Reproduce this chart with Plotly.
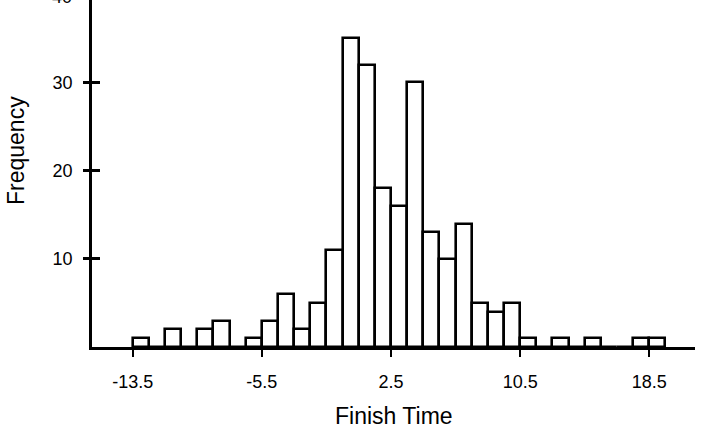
import plotly.graph_objects as go

# Histogram of finish times: bin centres (width 1) and counts
bin_centers = list(range(-13, 20))
counts = [1, 0, 2, 0, 2, 3, 0, 1, 3, 6, 2, 5, 11, 35, 32, 18, 16, 30, 13, 10, 14,
          5, 4, 5, 1, 0, 1, 0, 1, 0, 0, 1, 1]
x_tickvals = [-13.5, -5.5, 2.5, 10.5, 18.5]
x_ticktext = ["-13.5", "-5.5", "2.5", "10.5", "18.5"]
y_tickvals = [10, 20, 30, 40]
x_title = "Finish Time"
y_title = "Frequency"

FONT = "Liberation Sans, Arial, Helvetica, sans-serif"
X_RANGE = [-16.02, 21.33]
Y_RANGE = [0, 39.34]
PLOT_L, PLOT_R, PLOT_B = 92, 9, 93
PLOT_W = 704 - PLOT_L - PLOT_R
PLOT_H = 440 - PLOT_B

fig = go.Figure()
fig.add_trace(go.Bar(
    x=bin_centers, y=counts, width=1,
    marker=dict(color="white", line=dict(color="black", width=2.6)),
    hoverinfo="x+y", showlegend=False,
))
# invisible trace on overlay axis to hold inside ticks
fig.add_trace(go.Scatter(x=[None], y=[None], xaxis="x", yaxis="y2", showlegend=False))

fig.update_layout(
    width=704, height=440,
    margin=dict(l=PLOT_L, r=PLOT_R, t=0, b=PLOT_B),
    paper_bgcolor="white", plot_bgcolor="white",
    bargap=0,
    font=dict(family=FONT, color="black"),
    xaxis=dict(
        range=X_RANGE, showgrid=False, zeroline=False,
        showline=True, linecolor="black", linewidth=2.5,
        tickmode="array", tickvals=x_tickvals, ticktext=x_ticktext,
        ticks="outside", ticklen=7, tickwidth=2, tickcolor="black",
        ticklabelstandoff=10,
        tickfont=dict(size=18, family=FONT, color="black"),
    ),
    yaxis=dict(
        range=Y_RANGE, showgrid=False, zeroline=False,
        showline=True, linecolor="black", linewidth=2.5,
        tickmode="array", tickvals=y_tickvals,
        ticks="outside", ticklen=6, tickwidth=2.5, tickcolor="black",
        ticklabelstandoff=7,
        tickfont=dict(size=18, family=FONT, color="black"),
    ),
    yaxis2=dict(
        range=Y_RANGE, overlaying="y", side="left", showgrid=False, zeroline=False,
        showline=False, tickmode="array", tickvals=y_tickvals,
        ticks="inside", ticklen=8, tickwidth=2.5, tickcolor="black",
        showticklabels=False,
    ),
)

# axis titles
fig.add_annotation(
    text=x_title, xref="paper", yref="paper",
    x=(394 - PLOT_L) / PLOT_W, y=-(416 - PLOT_H) / PLOT_H,
    xanchor="center", yanchor="middle", showarrow=False,
    font=dict(size=23, family=FONT, color="black"),
)
fig.add_annotation(
    text=y_title, xref="paper", yref="paper",
    x=(16 - PLOT_L) / PLOT_W, y=1 - 151 / PLOT_H, textangle=-90,
    xanchor="center", yanchor="middle", showarrow=False,
    font=dict(size=23, family=FONT, color="black"),
)
# "40" label sits just above the cropped top edge (only its foot shows)
fig.add_annotation(
    text="40", xref="paper", yref="paper", x=0, y=40 / Y_RANGE[1],
    xanchor="right", yanchor="middle", xshift=-18, yshift=-3, showarrow=False,
    font=dict(size=18, family=FONT, color="black"),
)

fig.write_html("out.html")
